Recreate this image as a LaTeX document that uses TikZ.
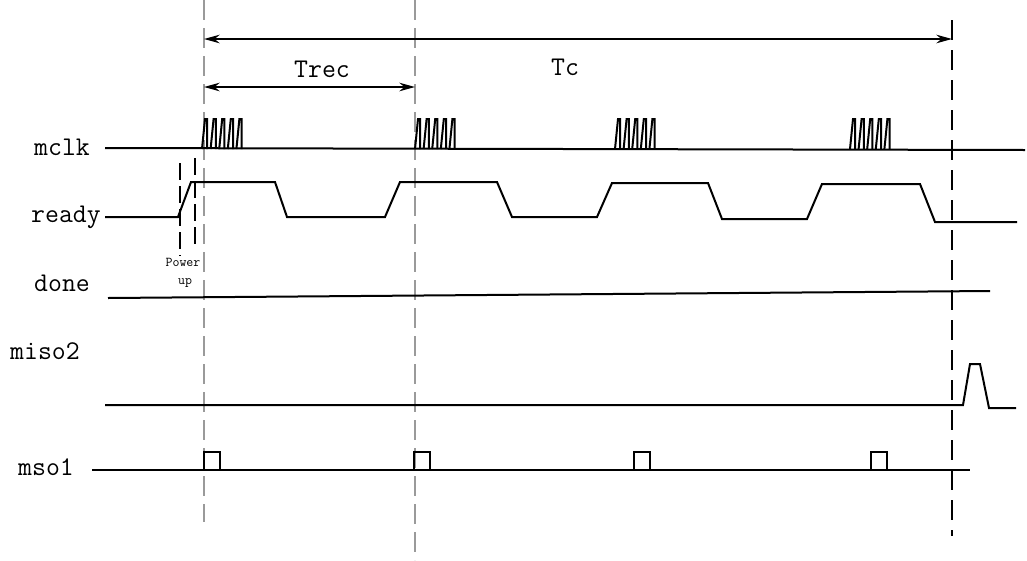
\documentclass[tikz,border=0pt]{standalone}
\usepackage{fontspec}
\usetikzlibrary{arrows.meta,positioning}
\definecolor{GuideGray}{HTML}{9A9A9A}

\begin{document}
\begin{tikzpicture}[
    x=1pt, y=-1pt,
    signal/.style={line width=2pt, line join=miter},
    guide/.style={draw=GuideGray, line width=2pt, dash pattern=on 20pt off 8pt},
    endguide/.style={draw=black, line width=2pt, dash pattern=on 20pt off 10pt},
    puguide/.style={draw=black, line width=1.6pt, dash pattern=on 17pt off 6pt},
    dim/.style={{Stealth[length=5.5mm,width=3mm]}-{Stealth[length=5.5mm,width=3mm]}, line width=1.8pt},
    siglabel/.style={font=\ttfamily\fontsize{27}{31}\selectfont, anchor=base, inner sep=0pt},
    smalllabel/.style={font=\ttfamily\fontsize{13.5}{15}\selectfont, anchor=base, inner sep=0pt}
  ]
    \useasboundingbox (0,0) rectangle (1027,560);

    % Guide lines
    \draw[guide] (204,0) coordinate (g1top) -- (204,522) coordinate (g1bot);
    \draw[guide] (415,0) coordinate (g2top) -- (415,560) coordinate (g2bot);
    \draw[endguide] (952,20) coordinate (g3top) -- (952,536) coordinate (g3bot);
    \draw[puguide] (180,163) -- (180,256);
    \draw[puguide] (195,158) -- (195,246);

    % Dimension arrows
    \coordinate (tcL) at (204,39);
    \coordinate (tcR) at (952,39);
    \coordinate (trL) at (204,87);
    \coordinate (trR) at (415,87);
    \draw[dim] (tcL) -- (tcR);
    \draw[dim] (trL) -- (trR);
    \node[siglabel] (tc) at (565,75) {Tc};
    \node[siglabel] (trec) at (322,77) {Trec};

    % Signal names
    \node[siglabel] (mclk) at (62,155) {mclk};
    \node[siglabel] (ready) at (66,222) {ready};
    \node[siglabel] (done) at (62,291) {done};
    \node[siglabel] (miso) at (45,359) {miso2};
    \node[siglabel] (mso) at (46,475) {mso1};
    \node[smalllabel] (pw) at (183,266) {Power};
    \node[smalllabel] (pu) at (185,284) {up};

    % mclk
    \draw[signal] (105,148) -- (1025,150);
    \foreach \bx in {202,415,615,850}{
      \foreach \i in {0,...,4}{
        \draw[signal] (\bx+\i*8.6,149) -- ++(3,-30) -- ++(2.2,0) -- ++(0,30);
      }
    }

    % ready
    \draw[signal] (105,217) -- (178,217) -- (191,182) -- (275,182) -- (287,217)
      -- (385,217) -- (400,182) -- (497,182) -- (512,217) -- (597,217)
      -- (612,183) -- (708,183) -- (722,219) -- (807,219) -- (822,184)
      -- (920,184) -- (935,222) -- (1017,222);

    % done
    \draw[signal] (108,298) -- (990,291);

    % miso2
    \draw[signal] (105,405) -- (963,405) -- (970,364) -- (980,364)
      -- (989,408) -- (1016,408);

    % mso1
    \draw[signal] (92,470) -- (970,470);
    \foreach \px in {204,414,634,871}{
      \draw[signal] (\px,470) -- (\px,452) -- (\px+16,452) -- (\px+16,470);
    }
\end{tikzpicture}
\end{document}
